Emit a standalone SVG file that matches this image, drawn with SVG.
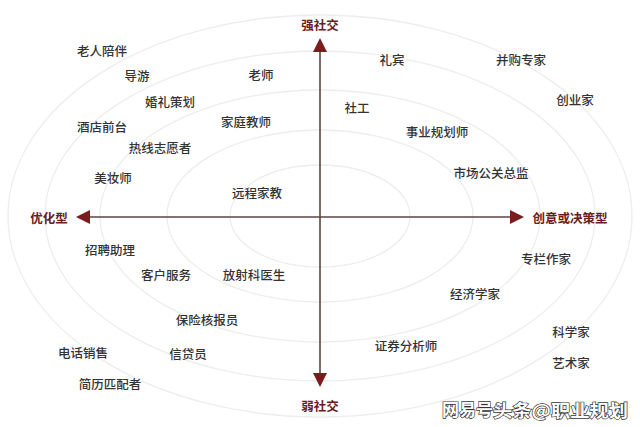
<svg xmlns="http://www.w3.org/2000/svg" width="640" height="427" viewBox="0 0 640 427">
<style>
.ring{fill:none;stroke:#ededed;stroke-width:1.3}
.lbl{font-family:"Noto Sans CJK SC","Noto Sans",sans-serif;font-size:12.5px;fill:#333;text-anchor:middle;dominant-baseline:central;font-weight:500}
.axl{font-family:"Noto Sans CJK SC","Noto Sans",sans-serif;font-size:12.5px;fill:#6b1c1c;font-weight:700;dominant-baseline:central}
.ax{stroke:#5e4343;stroke-width:1.6;fill:none}
.wm{font-family:"Noto Sans CJK SC","Noto Sans",sans-serif;font-size:17px;font-weight:700;fill:#fff;stroke:#333;stroke-width:1.3;paint-order:stroke;dominant-baseline:central}
</style>
<defs>
<marker id="ah" markerUnits="userSpaceOnUse" markerWidth="14" markerHeight="14" viewBox="0 0 14 14" refX="8" refY="7" orient="auto-start-reverse">
<path d="M0,0 L14,7 L0,14 z" fill="#7b1c1c"/>
</marker>
</defs>
<rect width="640" height="427" fill="#fff"/>
<g id="rings">
<ellipse class="ring" cx="320" cy="216" rx="90" ry="51"/>
<ellipse class="ring" cx="320" cy="216" rx="153" ry="86"/>
<ellipse class="ring" cx="320" cy="216" rx="220" ry="126"/>
<ellipse class="ring" cx="320" cy="216" rx="275" ry="165"/>
<ellipse class="ring" cx="320" cy="216" rx="312" ry="201"/>
</g>
<g id="connectors">
<line class="ax" x1="82" y1="217" x2="518" y2="217" marker-start="url(#ah)" marker-end="url(#ah)"/>
<line class="ax" x1="320" y1="44" x2="320" y2="381" marker-start="url(#ah)" marker-end="url(#ah)"/>
</g>
<g id="axis-top"><text class="axl" x="320" y="24" text-anchor="middle">强社交</text></g>
<g id="axis-bottom"><text class="axl" x="320" y="405" text-anchor="middle">弱社交</text></g>
<g id="axis-left"><text class="axl" x="49" y="217" text-anchor="middle">优化型</text></g>
<g id="axis-right"><text class="axl" x="570" y="217" text-anchor="middle">创意或决策型</text></g>
<g id="n1"><text class="lbl" x="102" y="50">老人陪伴</text></g>
<g id="n2"><text class="lbl" x="137" y="75">导游</text></g>
<g id="n3"><text class="lbl" x="261" y="74">老师</text></g>
<g id="n4"><text class="lbl" x="170" y="101">婚礼策划</text></g>
<g id="n5"><text class="lbl" x="102" y="126">酒店前台</text></g>
<g id="n6"><text class="lbl" x="246" y="121">家庭教师</text></g>
<g id="n7"><text class="lbl" x="160" y="147">热线志愿者</text></g>
<g id="n8"><text class="lbl" x="113" y="177">美妆师</text></g>
<g id="n9"><text class="lbl" x="257" y="192">远程家教</text></g>
<g id="n10"><text class="lbl" x="392" y="59">礼宾</text></g>
<g id="n11"><text class="lbl" x="521" y="59">并购专家</text></g>
<g id="n12"><text class="lbl" x="575" y="99">创业家</text></g>
<g id="n13"><text class="lbl" x="357" y="107">社工</text></g>
<g id="n14"><text class="lbl" x="437" y="131">事业规划师</text></g>
<g id="n15"><text class="lbl" x="491" y="172">市场公关总监</text></g>
<g id="n16"><text class="lbl" x="110" y="249">招聘助理</text></g>
<g id="n17"><text class="lbl" x="166" y="274">客户服务</text></g>
<g id="n18"><text class="lbl" x="254" y="274">放射科医生</text></g>
<g id="n19"><text class="lbl" x="207" y="319">保险核报员</text></g>
<g id="n20"><text class="lbl" x="83" y="352">电话销售</text></g>
<g id="n21"><text class="lbl" x="188" y="353">信贷员</text></g>
<g id="n22"><text class="lbl" x="110" y="383">简历匹配者</text></g>
<g id="n23"><text class="lbl" x="546" y="258">专栏作家</text></g>
<g id="n24"><text class="lbl" x="475" y="293">经济学家</text></g>
<g id="n25"><text class="lbl" x="571" y="331">科学家</text></g>
<g id="n26"><text class="lbl" x="406" y="345">证券分析师</text></g>
<g id="n27"><text class="lbl" x="571" y="362">艺术家</text></g>
<g id="watermark"><text class="wm" x="442" y="408">网易号</text><text class="wm" x="493" y="409" textLength="135" lengthAdjust="spacingAndGlyphs">头条@职业规划</text></g>
</svg>
